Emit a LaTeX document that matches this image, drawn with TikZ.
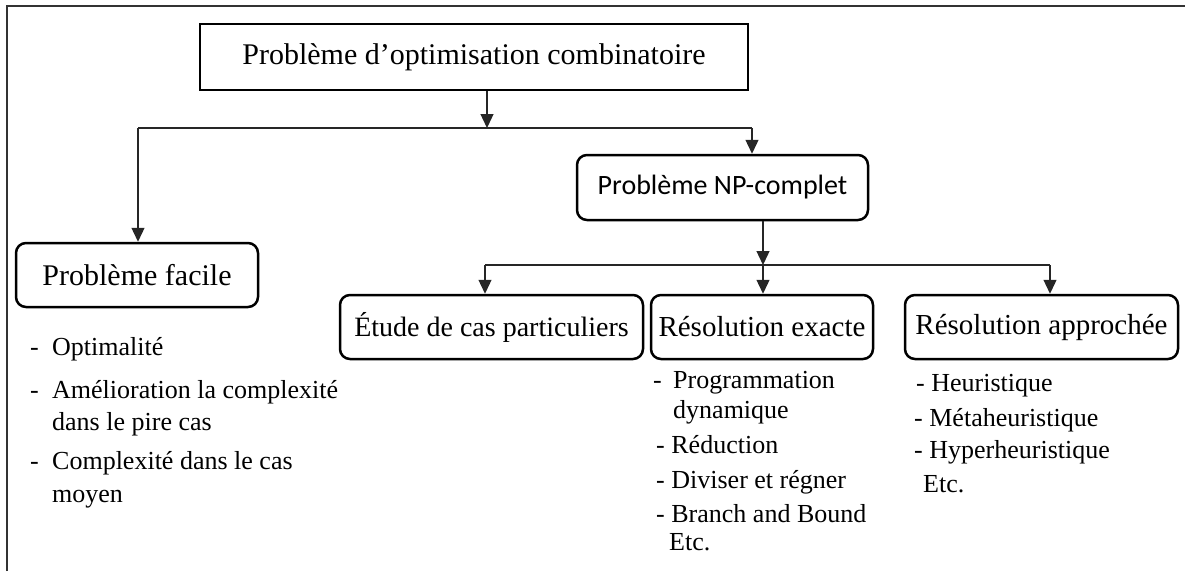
\documentclass[tikz,border=0pt]{standalone}
\usepackage{fontspec}
\setmainfont{Liberation Serif}
\newfontfamily\calibri{Carlito}
\usetikzlibrary{arrows.meta}
\begin{document}
\begin{tikzpicture}[x=1pt,y=-1pt,
  box/.style={draw=black, line width=2.5pt, rounded corners=10pt, inner sep=0pt,
    font=\fontsize{29}{33}\selectfont},
  sharpbox/.style={box, rounded corners=0pt, line width=2.8pt, font=\fontsize{30}{34}\selectfont},
  conn/.style={line width=1.3pt, draw=black!85},
  arr/.style={conn, -{Triangle[length=14pt,width=13pt]}},
  frame/.style={line width=2pt, draw=black!80},
  item/.style={anchor=base west, inner sep=0pt, font=\fontsize{26}{30}\selectfont}]

\useasboundingbox (0,0) rectangle (1185,571);

% outer frame (top and left edges only)
\draw[frame] (7,571) -- (7,6) -- (1185,6);

% boxes
\node[sharpbox, minimum width=548pt, minimum height=66pt] (top) at (474,57)
  {Problème d’optimisation combinatoire};
\node[box, minimum width=291pt, minimum height=65pt, font={\calibri\fontsize{28}{32}\selectfont}] (np) at (722.5,187.5)
  {Problème NP-complet};
\node[box, minimum width=242pt, minimum height=64pt, font=\fontsize{30}{34}\selectfont] (facile) at (137,275) {Problème facile};
\node[box, minimum width=303pt, minimum height=64pt, font=\fontsize{28}{32}\selectfont] (etude) at (491.5,327) {Étude de cas particuliers};
\node[box, minimum width=222pt, minimum height=64pt] (exacte) at (762,327) {Résolution exacte};
\node[box, minimum width=273pt, minimum height=64pt] (approchee) at (1041.5,327) {Résolution approchée};

% first level connectors
\coordinate (j1) at (487,128);
\coordinate (bl) at (138,128);
\coordinate (br) at (752,128);
\draw[arr] (top.south -| j1) -- (j1);
\draw[conn] (bl) -- (br);
\draw[arr] (bl) -- (bl |- facile.north);
\draw[arr] (br) -- (br |- np.north);

% second level connectors
\coordinate (j2) at (763,265);
\coordinate (cl) at (485,265);
\coordinate (cr) at (1050,265);
\draw[arr] (np.south -| j2) -- (j2);
\draw[conn] (cl) -- (cr);
\draw[arr] (cl) -- (cl |- etude.north);
\draw[arr] (j2) -- (j2 |- exacte.north);
\draw[arr] (cr) -- (cr |- approchee.north);

% easy problem properties
\node[item] (fd1) at (30,355) {-};
\node[item] (f1) at (52,355) {Optimalité};
\node[item] (fd2) at (30,398) {-};
\node[item] (f2) at (52,398) {Amélioration la complexité};
\node[item] (f2b) at (52,430) {dans le pire cas};
\node[item] (fd3) at (30,469) {-};
\node[item] (f3) at (52,469) {Complexité dans le cas};
\node[item] (f3b) at (52,502) {moyen};

% exact methods
\node[item] (ed1) at (653,388) {-};
\node[item] (e1) at (673,388) {Programmation};
\node[item] (e1b) at (673,418) {dynamique};
\node[item] (e2) at (656,453) {- Réduction};
\node[item] (e3) at (656,488) {- Diviser et régner};
\node[item] (e4) at (656,522) {- Branch and Bound};
\node[item] (e5) at (669,550) {Etc.};

% approximate methods
\node[item] (a1) at (916,391) {- Heuristique};
\node[item] (a2) at (914,426) {- Métaheuristique};
\node[item] (a3) at (914,458) {- Hyperheuristique};
\node[item] (a4) at (923,492) {Etc.};
\end{tikzpicture}
\end{document}
